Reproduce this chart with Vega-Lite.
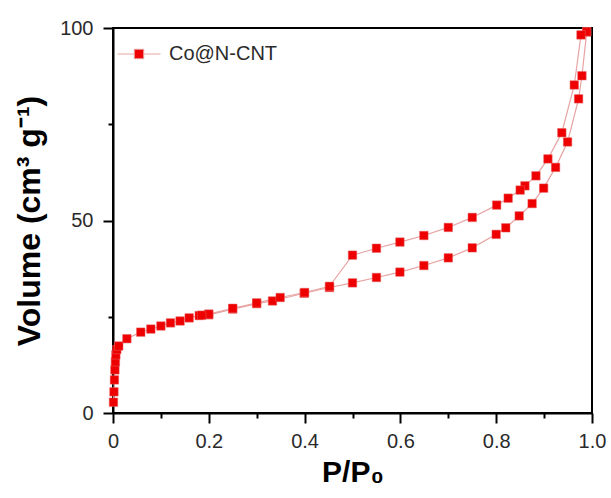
{
  "$schema": "https://vega.github.io/schema/vega-lite/v6.json",
  "width": 479,
  "height": 385,
  "autosize": {"type": "none"},
  "padding": {"left": 113, "top": 28, "right": 19, "bottom": 85},
  "background": "white",
  "config": {
    "view": {"stroke": "black", "strokeWidth": 2},
    "axis": {
      "domainColor": "black",
      "domainWidth": 2,
      "tickColor": "black",
      "tickWidth": 2,
      "grid": false,
      "labelFont": "Liberation Sans",
      "labelFontSize": 20,
      "labelColor": "#2a2a2a",
      "titleFont": "Liberation Sans",
      "titleFontWeight": "bold",
      "titleColor": "black"
    }
  },
  "data": {
    "values": [
      {"branch": "ads", "i": 1, "p": 0.001, "v": 2.8},
      {"branch": "ads", "i": 2, "p": 0.002, "v": 5.5},
      {"branch": "ads", "i": 3, "p": 0.003, "v": 8.6},
      {"branch": "ads", "i": 4, "p": 0.004, "v": 11.2},
      {"branch": "ads", "i": 5, "p": 0.005, "v": 13.3},
      {"branch": "ads", "i": 6, "p": 0.006, "v": 15.1},
      {"branch": "ads", "i": 7, "p": 0.008, "v": 16.5},
      {"branch": "ads", "i": 8, "p": 0.012, "v": 17.4},
      {"branch": "ads", "i": 9, "p": 0.029, "v": 19.3},
      {"branch": "ads", "i": 10, "p": 0.058, "v": 21.0},
      {"branch": "ads", "i": 11, "p": 0.079, "v": 21.8},
      {"branch": "ads", "i": 12, "p": 0.100, "v": 22.6},
      {"branch": "ads", "i": 13, "p": 0.120, "v": 23.4},
      {"branch": "ads", "i": 14, "p": 0.140, "v": 23.9},
      {"branch": "ads", "i": 15, "p": 0.159, "v": 24.7},
      {"branch": "ads", "i": 16, "p": 0.180, "v": 25.3},
      {"branch": "ads", "i": 17, "p": 0.200, "v": 25.5},
      {"branch": "ads", "i": 18, "p": 0.250, "v": 27.0},
      {"branch": "ads", "i": 19, "p": 0.300, "v": 28.4},
      {"branch": "ads", "i": 20, "p": 0.333, "v": 29.1},
      {"branch": "ads", "i": 21, "p": 0.399, "v": 31.1},
      {"branch": "ads", "i": 22, "p": 0.452, "v": 32.6},
      {"branch": "ads", "i": 23, "p": 0.500, "v": 33.8},
      {"branch": "ads", "i": 24, "p": 0.550, "v": 35.2},
      {"branch": "ads", "i": 25, "p": 0.599, "v": 36.6},
      {"branch": "ads", "i": 26, "p": 0.649, "v": 38.3},
      {"branch": "ads", "i": 27, "p": 0.700, "v": 40.3},
      {"branch": "ads", "i": 28, "p": 0.750, "v": 42.9},
      {"branch": "ads", "i": 29, "p": 0.800, "v": 46.4},
      {"branch": "ads", "i": 30, "p": 0.820, "v": 48.1},
      {"branch": "ads", "i": 31, "p": 0.848, "v": 51.2},
      {"branch": "ads", "i": 32, "p": 0.875, "v": 54.4},
      {"branch": "ads", "i": 33, "p": 0.899, "v": 58.4},
      {"branch": "ads", "i": 34, "p": 0.924, "v": 63.8},
      {"branch": "ads", "i": 35, "p": 0.949, "v": 70.4},
      {"branch": "ads", "i": 36, "p": 0.972, "v": 81.6},
      {"branch": "ads", "i": 37, "p": 0.979, "v": 87.6},
      {"branch": "ads", "i": 38, "p": 0.989, "v": 99.0},
      {"branch": "des", "i": 1, "p": 0.989, "v": 99.0},
      {"branch": "des", "i": 2, "p": 0.977, "v": 98.2},
      {"branch": "des", "i": 3, "p": 0.963, "v": 85.2},
      {"branch": "des", "i": 4, "p": 0.937, "v": 72.8},
      {"branch": "des", "i": 5, "p": 0.908, "v": 66.0},
      {"branch": "des", "i": 6, "p": 0.883, "v": 61.6},
      {"branch": "des", "i": 7, "p": 0.860, "v": 59.0},
      {"branch": "des", "i": 8, "p": 0.850, "v": 57.9},
      {"branch": "des", "i": 9, "p": 0.825, "v": 55.8},
      {"branch": "des", "i": 10, "p": 0.801, "v": 54.0},
      {"branch": "des", "i": 11, "p": 0.750, "v": 50.8},
      {"branch": "des", "i": 12, "p": 0.700, "v": 48.2},
      {"branch": "des", "i": 13, "p": 0.649, "v": 46.1},
      {"branch": "des", "i": 14, "p": 0.599, "v": 44.4},
      {"branch": "des", "i": 15, "p": 0.550, "v": 42.8},
      {"branch": "des", "i": 16, "p": 0.500, "v": 41.0},
      {"branch": "des", "i": 17, "p": 0.452, "v": 32.9},
      {"branch": "des", "i": 18, "p": 0.400, "v": 31.3},
      {"branch": "des", "i": 19, "p": 0.349, "v": 30.0},
      {"branch": "des", "i": 20, "p": 0.300, "v": 28.6},
      {"branch": "des", "i": 21, "p": 0.250, "v": 27.2},
      {"branch": "des", "i": 22, "p": 0.200, "v": 25.7},
      {"branch": "des", "i": 23, "p": 0.185, "v": 25.4}
    ]
  },
  "encoding": {
    "x": {
      "field": "p", "type": "quantitative",
      "scale": {"domain": [0, 1], "nice": false, "zero": false},
      "axis": {
        "title": "P/P₀",
        "titleFontSize": 30,
        "titlePadding": 6,
        "values": [0, 0.1, 0.2, 0.3, 0.4, 0.5, 0.6, 0.7, 0.8, 0.9, 1.0],
        "labelExpr": "datum.value == 0 ? '0' : (round(datum.value * 10) % 2 == 0 ? format(datum.value, '.1f') : '')",
        "tickSize": {"condition": {"test": "round(datum.value * 10) % 2 == 0", "value": 10}, "value": 5},
        "labelPadding": 8,
        "labelFlush": false,
        "labelOverlap": false
      }
    },
    "y": {
      "field": "v", "type": "quantitative",
      "scale": {"domain": [0, 100], "nice": false},
      "axis": {
        "title": "Volume (cm³ g⁻¹)",
        "titleFontSize": 32,
        "titlePadding": 13,
        "values": [0, 25, 50, 75, 100],
        "labelExpr": "datum.value % 50 == 0 ? datum.label : ''",
        "tickSize": {"condition": {"test": "datum.value % 50 == 0", "value": 10}, "value": 5},
        "labelPadding": 10,
        "labelFlush": false,
        "labelOverlap": false
      }
    }
  },
  "layer": [
    {
      "mark": {"type": "line", "color": "#e8a3a3", "strokeWidth": 1.2},
      "encoding": {
        "detail": {"field": "branch"},
        "order": {"field": "i"}
      }
    },
    {
      "mark": {"type": "point", "shape": "square", "filled": true, "opacity": 1, "size": 72, "stroke": "#e66060", "strokeWidth": 0.5},
      "encoding": {
        "color": {
          "datum": "Co@N-CNT",
          "scale": {"range": ["#ee0000"]},
          "legend": {
            "title": null,
            "orient": "none",
            "legendX": 4,
            "legendY": 4,
            "symbolType": "M-1,0H-0.22M0.22,0H1M-0.22,-0.22H0.22V0.22H-0.22Z",
            "symbolSize": 1849,
            "symbolStrokeColor": "#e8a3a3",
            "symbolStrokeWidth": 1,
            "symbolFillColor": "#ee0000",
            "labelFont": "Liberation Sans",
            "labelFontSize": 20,
            "labelColor": "#2a2a2a",
            "labelOffset": 8
          }
        }
      }
    }
  ]
}
